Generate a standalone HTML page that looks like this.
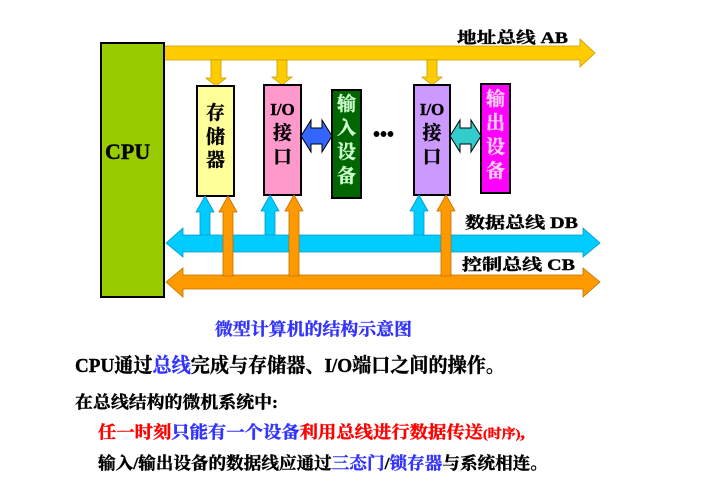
<!DOCTYPE html>
<html><head><meta charset="utf-8"><style>
html,body{margin:0;padding:0;background:#fff;}
svg{display:block;}
text{font-family:"Liberation Serif","Noto Serif CJK SC","Noto Sans CJK SC",serif;font-weight:bold;stroke:currentColor;stroke-width:0.4;}
</style></head><body>
<svg width="702" height="496" viewBox="0 0 702 496" xmlns="http://www.w3.org/2000/svg">
<polygon points="164,46 580,46 580,39 595,53 580,67 580,60 164,60" fill="#ffcc00" stroke="#c89a00" stroke-width="0.8"/>
<text x="457" y="43" font-size="16" fill="#000" style="color:#000" textLength="111" lengthAdjust="spacingAndGlyphs">地址总线 AB</text>
<g fill="#ffcc00" stroke="#c89a00" stroke-width="0.8">
<polygon points="211,60 221,60 221,78 226,78 216,86 206,78 211,78"/>
<polygon points="277,60 287,60 287,77 292,77 282,85 272,77 277,77"/>
<polygon points="427,60 437,60 437,77 442,77 432,85 422,77 427,77"/>
</g>
<rect x="101" y="43" width="63" height="254" fill="#99cc00" stroke="#000" stroke-width="2"/>
<text x="105" y="159" font-size="22" fill="#000" style="color:#000">CPU</text>
<rect x="197" y="86" width="37" height="110" fill="#ffff99" stroke="#000" stroke-width="2"/>
<rect x="264" y="85" width="37" height="110" fill="#ff99cc" stroke="#000" stroke-width="2"/>
<rect x="332" y="90" width="29" height="108" fill="#006600" stroke="#000" stroke-width="2"/>
<rect x="414" y="85" width="36" height="110" fill="#cc99ff" stroke="#000" stroke-width="2"/>
<rect x="481" y="84" width="29" height="109" fill="#ff00ff" stroke="#000" stroke-width="2"/>
<g font-size="19" text-anchor="middle" fill="#000" style="color:#000">
<text x="215.5" y="119">存</text><text x="215.5" y="143">储</text><text x="215.5" y="166">器</text>
<text x="282.5" y="115" font-size="17">I/O</text><text x="282.5" y="139">接</text><text x="282.5" y="163">口</text>
<text x="432" y="115" font-size="17">I/O</text><text x="432" y="139">接</text><text x="432" y="163">口</text>
</g>
<g font-size="19" text-anchor="middle" fill="#ccffcc" style="color:#ccffcc">
<text x="346.5" y="110">输</text><text x="346.5" y="134">入</text><text x="346.5" y="158">设</text><text x="346.5" y="182">备</text>
</g>
<g font-size="19" text-anchor="middle" fill="#ffccff" style="color:#ffccff">
<text x="495.5" y="105">输</text><text x="495.5" y="129">出</text><text x="495.5" y="153">设</text><text x="495.5" y="177">备</text>
</g>
<polygon points="301,136 311,120 311,128 322,128 322,120 332,136 322,152 322,144 311,144 311,152" fill="#3366ff" stroke="#000" stroke-width="1"/>
<polygon points="450,136 460,120 460,128 471,128 471,120 481,136 471,152 471,144 460,144 460,152" fill="#33cccc" stroke="#000" stroke-width="1"/>
<text x="373" y="141" font-size="20" fill="#000" style="color:#000">•••</text>
<polygon points="166,282 183,268 183,275 583,275 583,268 600,282 583,297 583,289 183,289 183,297" fill="#ff9900" stroke="#c07000" stroke-width="0.8"/>
<g fill="#00ccff" stroke="#0099cc" stroke-width="0.8">
<polygon points="200,240 210,240 210,212 214,212 205,196 196,212 200,212"/>
<polygon points="265,240 275,240 275,211 279,211 270,195 261,211 265,211"/>
<polygon points="414,240 424,240 424,211 428,211 419,195 410,211 414,211"/>
</g>
<polygon points="166,243 183,228 183,235 583,235 583,228 600,243 583,257 583,252 183,252 183,257" fill="#00ccff" stroke="#0099cc" stroke-width="0.8"/>
<g fill="#ff9900" stroke="#c07000" stroke-width="0.8">
<polygon points="223,276 233,276 233,212 237,212 228,196 219,212 223,212"/>
<polygon points="289,276 299,276 299,211 303,211 294,195 285,211 289,211"/>
<polygon points="441,276 451,276 451,211 455,211 446,195 437,211 441,211"/>
</g>
<text x="465" y="228" font-size="16" fill="#000" style="color:#000" textLength="113" lengthAdjust="spacingAndGlyphs">数据总线 DB</text>
<rect x="460" y="254" width="118" height="19" fill="#fff"/>
<text x="462" y="270" font-size="16" fill="#000" style="color:#000" textLength="113" lengthAdjust="spacingAndGlyphs">控制总线 CB</text>
<text x="215" y="335" font-size="17" fill="#3333ff" style="color:#3333ff" textLength="197" lengthAdjust="spacingAndGlyphs">微型计算机的结构示意图</text>
<text x="75" y="372" font-size="20" fill="#000" style="color:#000" textLength="430" lengthAdjust="spacingAndGlyphs">CPU通过<tspan fill="#3333ff" style="color:#3333ff">总线</tspan>完成与存储器、I/O端口之间的操作。</text>
<text x="75" y="408" font-size="17" fill="#000" style="color:#000" textLength="203" lengthAdjust="spacingAndGlyphs">在总线结构的微机系统中:</text>
<text x="98" y="438" font-size="17" fill="#ff0000" style="color:#ff0000" textLength="427" lengthAdjust="spacingAndGlyphs">任一时刻<tspan fill="#3333ff" style="color:#3333ff">只能有一个设备</tspan>利用总线进行数据传送<tspan font-size="13">(时序)</tspan>,</text>
<text x="98" y="469" font-size="17" fill="#000" style="color:#000" textLength="450" lengthAdjust="spacingAndGlyphs">输入/输出设备的数据线应通过<tspan fill="#3333ff" style="color:#3333ff">三态门</tspan>/<tspan fill="#3333ff" style="color:#3333ff">锁存器</tspan>与系统相连。</text>
</svg>
</body></html>
